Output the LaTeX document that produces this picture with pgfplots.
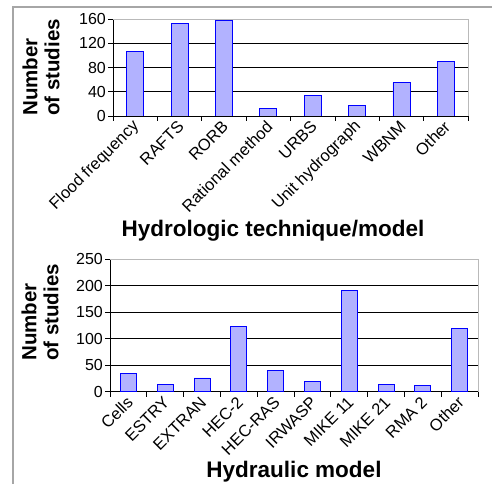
\documentclass[border=0pt]{standalone}
\usepackage{pgfplots}
\pgfplotsset{compat=1.18}
\usepackage{fontspec}
\setmainfont{Liberation Sans}
\definecolor{barfill}{HTML}{9999FF}
\begin{document}
\begin{tikzpicture}
\pgfplotsset{
  mychart/.style={
    anchor=south west,
    scale only axis,
    ybar,
    axis lines=left,
    axis line style={-, black, line width=0.8pt},
    ymajorgrids,
    grid style={black, line width=0.7pt},
    ymin=0,
    xtick=data,
    tick align=outside,
    major x tick style={draw=none},
    minor tick length=5pt,
    major tick length=5pt,
    minor x tick style={black, line width=0.7pt},
    ytick style={black, line width=0.7pt},
    yticklabel style={font=\fontsize{16}{18}\selectfont, inner sep=2pt},
    xticklabel style={font=\fontsize{16.5}{18}\selectfont, rotate=45, anchor=east, inner sep=1pt, yshift=-3pt},
    /pgf/number format/assume math mode=true,
    every axis plot/.append style={fill=barfill, draw=black!85, line width=0.8pt},
    after end axis/.code={\draw[gray!55, line width=0.8pt] (rel axis cs:0,1) -- (rel axis cs:1,1) -- (rel axis cs:1,0);},
  }
}
% frame
\draw[gray!70, line width=1.3pt] (13pt,0pt) -- (13pt,477pt) -- (492pt,477pt);

% top chart
\begin{axis}[mychart,
  at={(113pt,368pt)}, width=355pt, height=97pt,
  xmin=-0.5, xmax=7.5, ymax=160,
  ytick={0,40,80,120,160},
  minor xtick={-0.5,0.5,...,7.5},
  bar width=17pt,
  xticklabels={Flood frequency, RAFTS, RORB, Rational method, URBS, Unit hydrograph, WBNM, Other},
]
\addplot coordinates {(0,106) (1,152) (2,158) (3,13) (4,34) (5,18) (6,55) (7,90)};
\end{axis}
\node[font=\fontsize{22.5}{24}\selectfont\bfseries, anchor=base, inner sep=0pt] at (273pt,247pt) {Hydrologic technique/model};
\node[font=\fontsize{20.5}{22}\selectfont\bfseries, rotate=90, align=left, anchor=west, inner sep=0pt] at (41pt,368pt) {Number\\of studies};

% bottom chart
\begin{axis}[mychart,
  at={(110pt,92.3pt)}, width=368pt, height=132.4pt,
  xmin=-0.5, xmax=9.5, ymax=250,
  ytick={0,50,100,150,200,250},
  minor xtick={-0.5,0.5,...,9.5},
  bar width=16pt,
  xticklabels={Cells, ESTRY, EXTRAN, HEC-2, HEC-RAS, IRWASP, MIKE 11, MIKE 21, RMA 2, Other},
]
\addplot coordinates {(0,35) (1,14) (2,26) (3,123) (4,40) (5,20) (6,191) (7,14) (8,12) (9,120)};
\end{axis}
\node[font=\fontsize{22.5}{24}\selectfont\bfseries, anchor=base, inner sep=0pt] at (294pt,6pt) {Hydraulic model};
\node[font=\fontsize{20.5}{22}\selectfont\bfseries, rotate=90, align=left, anchor=west, inner sep=0pt] at (40pt,123pt) {Number\\of studies};

\pgfresetboundingbox
\useasboundingbox (0pt,0pt) rectangle (492pt,484pt);
\end{tikzpicture}
\end{document}
